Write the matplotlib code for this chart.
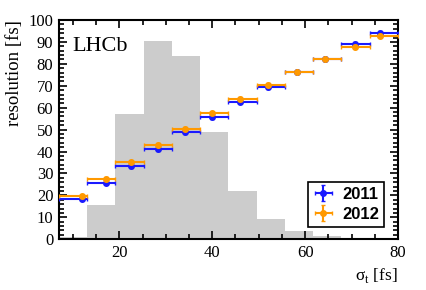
import numpy as np
import matplotlib.pyplot as plt
from matplotlib.ticker import MultipleLocator

# histogram of sigma_t (arbitrary scale)
edges = np.linspace(7, 80, 13)
hist = [0.9, 15.5, 57.2, 90.2, 83.7, 49.1, 22.1, 9.1, 3.8, 1.6, 0.6, 0.2]

# resolution points (mean sigma_t in bin)
x11 = [11.9, 17.1, 22.5, 28.3, 34.2, 40.0, 46.0, 52.1, 58.2, 64.3, 70.8, 76.2]
y11 = [18.5, 25.8, 33.5, 41.1, 48.7, 55.7, 62.8, 69.4, 76.1, 82.2, 89.0, 94.1]
x12 = [11.9, 17.1, 22.5, 28.3, 34.2, 40.0, 46.0, 52.1, 58.2, 64.3, 70.8, 76.2]
y12 = [19.5, 27.4, 35.1, 43.1, 50.5, 57.4, 64.1, 70.5, 76.5, 82.3, 87.9, 92.9]

serif = 'Liberation Serif'
plt.rcParams['mathtext.fontset'] = 'custom'
plt.rcParams['mathtext.rm'] = serif

fig = plt.figure(figsize=(4.27, 2.90), dpi=100)
ax = fig.add_axes([0.138, 0.175, 0.794, 0.756])

ax.bar(edges[:-1], hist, width=np.diff(edges), align='edge', color='#cccccc', linewidth=0, zorder=1)

def draw(x, y, color, label):
    x = np.array(x)
    xlo = x - edges[:-1]
    xhi = edges[1:] - x
    ax.errorbar(x, y, xerr=[xlo, xhi], yerr=0.8, fmt='o', color=color, ms=4,
                elinewidth=1.5, capsize=1.5, capthick=1.0, label=label, zorder=3)

draw(x11, y11, '#1a1aff', '2011')
draw(x12, y12, '#ff9900', '2012')

ax.set_xlim(7, 80)
ax.set_ylim(0, 100)
ax.xaxis.set_major_locator(MultipleLocator(20))
ax.xaxis.set_minor_locator(MultipleLocator(5))
ax.yaxis.set_major_locator(MultipleLocator(10))
ax.yaxis.set_minor_locator(MultipleLocator(2))
ax.tick_params(which='both', direction='in', top=True, right=True, width=1.2)
ax.tick_params(which='major', length=6, labelsize=12, pad=4)
ax.tick_params(which='minor', length=3.5)
for lab in ax.get_xticklabels() + ax.get_yticklabels():
    lab.set_fontfamily(serif)
for s in ax.spines.values():
    s.set_linewidth(1.5)

ax.set_ylabel('resolution [fs]', fontfamily=serif, fontsize=13.5)
ax.yaxis.set_label_coords(-0.105, 1.0)
ax.yaxis.label.set_horizontalalignment('right')
ax.set_xlabel(r'σ$_{\mathrm{t}}$ [fs]', fontfamily=serif, fontsize=12.5)
ax.xaxis.set_label_coords(1.0, -0.12)
ax.xaxis.label.set_horizontalalignment('right')

ax.text(0.04, 0.88, 'LHCb', transform=ax.transAxes, fontfamily=serif, fontsize=16, va='center')

leg = ax.legend(loc='lower right', bbox_to_anchor=(0.96, 0.056), borderaxespad=0,
                fancybox=False, framealpha=1, edgecolor='black',
                prop={'family': 'Liberation Sans', 'weight': 'bold', 'size': 12},
                handlelength=1.3, handletextpad=0.5, borderpad=0.3, labelspacing=0.3)
leg.get_frame().set_linewidth(1.2)

fig.savefig('out.png', dpi=100)
